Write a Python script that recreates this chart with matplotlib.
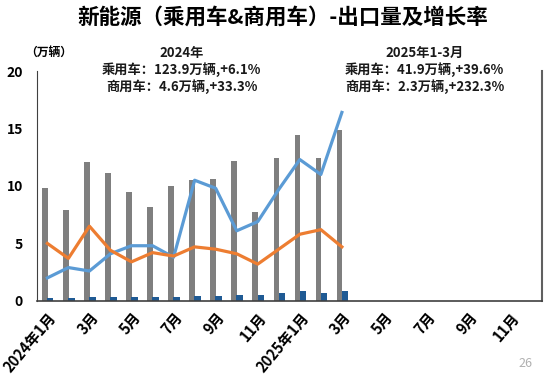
"""新能源（乘用车&商用车）出口量及增长率の再現プロット。"""

import matplotlib
matplotlib.use("Agg")
import matplotlib.pyplot as plt
import numpy as np

plt.rcParams["font.family"] = ["Noto Sans CJK SC", "DejaVu Sans"]

# 2024年1月〜2025年12月 (データは2025年3月まで)
months = [f"{m}月" for m in range(1, 13)] * 2
tick_labels = ["2024年1月", "3月", "5月", "7月", "9月", "11月",
               "2025年1月", "3月", "5月", "7月", "9月", "11月"]

passenger = [9.8, 7.9, 12.1, 11.1, 9.5, 8.2, 10.0, 10.5, 10.6, 12.2, 7.7, 12.4,
             14.4, 12.4, 14.9]
commercial = [0.25, 0.25, 0.3, 0.3, 0.35, 0.35, 0.3, 0.4, 0.4, 0.5, 0.5, 0.7,
              0.85, 0.7, 0.9]
blue_line = [2.0, 2.9, 2.6, 4.1, 4.8, 4.8, 3.8, 10.5, 9.8, 6.1, 6.9, 9.7,
             12.3, 11.0, 16.4]
orange_line = [5.0, 3.7, 6.5, 4.4, 3.4, 4.2, 3.9, 4.7, 4.5, 4.1, 3.2, 4.5,
               5.8, 6.2, 4.7]


def main() -> int:
    fig = plt.figure(figsize=(5.5, 3.78), dpi=100)
    ax = fig.add_axes([0.067, 0.204, 0.918, 0.608])

    n_all = len(months)
    x = np.arange(len(passenger))
    ax.bar(x - 0.12, passenger, width=0.26, color="#7f7f7f", zorder=2)
    ax.bar(x + 0.14, commercial, width=0.3, color="#1f5a94", zorder=2)
    ax.plot(x, blue_line, color="#5b9bd5", linewidth=2.3, zorder=3)
    ax.plot(x, orange_line, color="#ed7d31", linewidth=2.3, zorder=3)

    ax.set_xlim(-0.5, n_all - 0.5)
    ax.set_ylim(0, 20)
    ax.set_yticks([0, 5, 10, 15, 20])
    ax.set_xticks(np.arange(0, n_all, 2))
    ax.set_xticklabels(tick_labels, rotation=50, ha="right",
                       rotation_mode="anchor", fontsize=10.5, fontweight="bold")
    for lab in ax.get_yticklabels():
        lab.set_fontweight("bold")
        lab.set_fontsize(10)
    ax.tick_params(axis="both", length=0, pad=6)
    ax.tick_params(axis="y", pad=10)

    ax.spines["top"].set_visible(False)
    ax.spines["left"].set_color("#404040")
    ax.spines["bottom"].set_color("#404040")
    ax.spines["bottom"].set_linewidth(1.2)
    ax.spines["right"].set_color("#606060")
    ax.spines["right"].set_linewidth(1.5)

    fig.text(0.515, 0.955, "新能源（乘用车&商用车）-出口量及增长率",
             ha="center", va="center", fontsize=15.5, fontweight="bold")
    fig.text(0.088, 0.862, "（万辆）", ha="center", va="center",
             fontsize=8.5, fontweight="bold")

    blocks = [
        (0.33, ["2024年", "乘用车：123.9万辆,+6.1%", "商用车：4.6万辆,+33.3%"]),
        (0.772, ["2025年1-3月", "乘用车：41.9万辆,+39.6%", "商用车：2.3万辆,+232.3%"]),
    ]
    for cx, lines in blocks:
        for i, txt in enumerate(lines):
            fig.text(cx, 0.86 - i * 0.045, txt, ha="center", va="center",
                     fontsize=9.5, fontweight="bold", color="#1a1a1a")

    fig.text(0.955, 0.02, "26", ha="center", va="bottom", fontsize=9,
             color="#b0b0b0")

    fig.savefig("out.png", dpi=100)
    plt.close(fig)
    return 0


if __name__ == "__main__":
    raise SystemExit(main())
